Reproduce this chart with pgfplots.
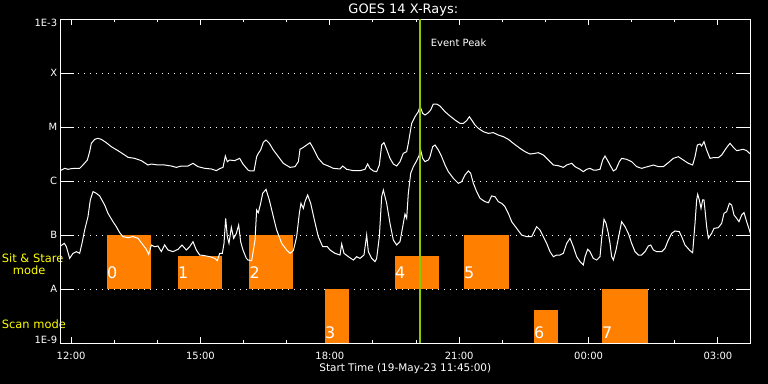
\documentclass[border=0pt]{standalone}
\usepackage{pgfplots}
\pgfplotsset{compat=1.18}
\usepackage{fontspec}
\setmainfont{DejaVu Sans}
\definecolor{barorange}{RGB}{255,127,0}
\definecolor{peakgreen}{RGB}{140,200,0}
\definecolor{labyellow}{RGB}{255,255,0}
\begin{document}
\begin{tikzpicture}
\fill[black] (-60.3bp,-40.7bp) rectangle (707.7bp,343.3bp);
\node[anchor=base west, inner sep=0pt, text=labyellow, font=\fontsize{11.5}{13}\selectfont] at (-58.6bp,80.6bp) {Sit \& Stare};
\node[anchor=base west, inner sep=0pt, text=labyellow, font=\fontsize{11.5}{13}\selectfont] at (-47.6bp,68.3bp) {mode};
\node[anchor=base west, inner sep=0pt, text=labyellow, font=\fontsize{11.5}{13}\selectfont] at (-58.6bp,15.3bp) {Scan mode};
\begin{axis}[
  at={(0,0)}, anchor=south west, name=ax,
  scale only axis, width=690bp, height=324bp,
  xmin=-0.25, xmax=15.75, ymin=-9, ymax=-3,
  axis line style={white, line width=1bp},
  every tick/.style={white, line width=1bp},
  tick align=inside,
  major tick length=14bp, minor tick length=3bp,
  xtick={0,3,6,9,12,15},
  xticklabels={12:00,15:00,18:00,21:00,00:00,03:00},
  minor x tick num=2,
  xtick style={/pgfplots/major tick length=6bp},
  ytick={-8,-7,-6,-5,-4},
  yticklabels={A,B,C,M,X},
  ymajorgrids,
  major grid style={white, line width=1bp, dash pattern=on 1bp off 5bp},
  ticklabel style={white, font=\fontsize{10}{12}\selectfont, inner sep=0pt},
  yticklabel style={xshift=-3bp},
  xticklabel style={yshift=-8.4bp},
  xlabel={Start Time (19-May-23 11:45:00)},
  xlabel style={white, font=\fontsize{10.5}{12}\selectfont, at={(0.5,0)}, anchor=base, yshift=-28bp, inner sep=0pt},
]
% observation bars: Sit & Stare (A..B row) and Scan (1E-9..A row)
\addplot[fill=barorange, draw=none] coordinates {(0.833,-8) (0.833,-7) (1.853,-7) (1.853,-8)} -- cycle;
\addplot[fill=barorange, draw=none] coordinates {(2.479,-8) (2.479,-7.383) (3.500,-7.383) (3.500,-8)} -- cycle;
\addplot[fill=barorange, draw=none] coordinates {(4.133,-8) (4.133,-7) (5.139,-7) (5.139,-8)} -- cycle;
\addplot[fill=barorange, draw=none] coordinates {(5.888,-9) (5.888,-8) (6.444,-8) (6.444,-9)} -- cycle;
\addplot[fill=barorange, draw=none] coordinates {(7.511,-8) (7.511,-7.383) (8.531,-7.383) (8.531,-8)} -- cycle;
\addplot[fill=barorange, draw=none] coordinates {(9.111,-8) (9.111,-7) (10.155,-7) (10.155,-8)} -- cycle;
\addplot[fill=barorange, draw=none] coordinates {(10.734,-9) (10.734,-8.383) (11.291,-8.383) (11.291,-9)} -- cycle;
\addplot[fill=barorange, draw=none] coordinates {(12.312,-9) (12.312,-8) (13.379,-8) (13.379,-9)} -- cycle;
% long channel (1-8 A), log10 flux
\addplot[white, line width=1bp] coordinates {
(-0.25,-5.803) (-0.149,-5.760) (-0.071,-5.778) (0.006,-5.766) (0.083,-5.760) (0.199,-5.760) (0.276,-5.698) (0.377,-5.606) (0.431,-5.451) (0.470,-5.297) (0.547,-5.223) (0.624,-5.204) (0.701,-5.223) (0.817,-5.285) (0.933,-5.359) (1.088,-5.433) (1.243,-5.513) (1.320,-5.556) (1.474,-5.575) (1.629,-5.618) (1.783,-5.698) (1.861,-5.680) (2.015,-5.698) (2.170,-5.698) (2.325,-5.717) (2.441,-5.742) (2.557,-5.717) (2.711,-5.717) (2.827,-5.667) (2.943,-5.729) (3.098,-5.760) (3.252,-5.772) (3.368,-5.803) (3.446,-5.766) (3.523,-5.742) (3.577,-5.532) (3.623,-5.637) (3.677,-5.606) (3.793,-5.618) (3.909,-5.575) (3.986,-5.680) (4.102,-5.791)
(4.149,-5.809) (4.242,-5.809) (4.303,-5.544) (4.342,-5.482) (4.396,-5.420) (4.458,-5.278) (4.520,-5.235) (4.597,-5.297) (4.690,-5.420) (4.806,-5.544) (4.922,-5.667) (5.076,-5.742) (5.192,-5.729) (5.270,-5.637) (5.308,-5.408) (5.386,-5.371) (5.463,-5.328) (5.540,-5.285) (5.617,-5.390) (5.733,-5.575) (5.849,-5.680) (5.965,-5.717) (6.081,-5.760) (6.236,-5.772) (6.298,-5.717) (6.390,-5.778) (6.545,-5.803) (6.700,-5.803) (6.816,-5.778) (6.877,-5.680) (6.931,-5.760) (7.009,-5.809) (7.086,-5.822) (7.148,-5.698) (7.202,-5.328) (7.256,-5.285) (7.318,-5.408) (7.395,-5.575) (7.472,-5.680) (7.550,-5.717) (7.627,-5.637) (7.704,-5.482) (7.782,-5.451) (7.820,-5.297) (7.859,-5.112) (7.898,-4.927) (7.975,-4.803) (8.052,-4.711) (8.091,-4.610)
(8.153,-4.741) (8.207,-4.772) (8.284,-4.729) (8.338,-4.680) (8.400,-4.569) (8.477,-4.569) (8.555,-4.606) (8.671,-4.711) (8.787,-4.791) (8.903,-4.865) (9.018,-4.927) (9.096,-4.927) (9.173,-4.877) (9.235,-4.803) (9.289,-4.865) (9.366,-4.957) (9.444,-5.019) (9.560,-5.081) (9.675,-5.112) (9.791,-5.099) (9.907,-5.143) (10.023,-5.174) (10.139,-5.223) (10.255,-5.297) (10.410,-5.390) (10.526,-5.451) (10.642,-5.495) (10.758,-5.482) (10.835,-5.470) (10.951,-5.513) (11.067,-5.606) (11.183,-5.698) (11.299,-5.711) (11.415,-5.742) (11.492,-5.698) (11.608,-5.667) (11.685,-5.729) (11.801,-5.778) (11.878,-5.822) (11.956,-5.778) (12.033,-5.760) (12.110,-5.791) (12.188,-5.791) (12.265,-5.778) (12.327,-5.606) (12.381,-5.532) (12.435,-5.606) (12.497,-5.698)
(12.574,-5.809) (12.636,-5.778) (12.713,-5.637) (12.767,-5.575) (12.883,-5.593) (12.999,-5.637) (13.115,-5.729) (13.231,-5.760) (13.308,-5.742) (13.424,-5.717) (13.502,-5.698) (13.617,-5.729) (13.733,-5.729) (13.849,-5.655) (13.965,-5.575) (14.081,-5.544) (14.197,-5.606) (14.313,-5.667) (14.413,-5.698) (14.468,-5.544) (14.522,-5.328) (14.584,-5.309) (14.622,-5.346) (14.676,-5.266) (14.738,-5.420) (14.816,-5.575) (14.893,-5.562) (15.009,-5.562) (15.086,-5.513) (15.163,-5.420) (15.217,-5.359) (15.279,-5.297) (15.357,-5.371) (15.434,-5.433) (15.511,-5.420) (15.588,-5.408) (15.666,-5.433) (15.750,-5.495)
};
% short channel (0.5-4 A), log10 flux
\addplot[white, line width=1bp] coordinates {
(-0.25,-7.200) (-0.156,-7.149) (-0.110,-7.211) (-0.033,-7.427) (0.044,-7.334) (0.122,-7.303) (0.199,-7.334) (0.253,-7.149) (0.315,-6.902) (0.392,-6.655) (0.446,-6.346) (0.508,-6.192) (0.586,-6.223) (0.663,-6.272) (0.779,-6.439) (0.856,-6.593) (0.972,-6.748) (1.049,-6.840) (1.127,-6.951) (1.204,-7.025) (1.320,-7.044) (1.436,-7.025) (1.552,-7.056) (1.668,-7.180) (1.745,-7.260) (1.799,-7.353) (1.861,-7.180) (1.938,-7.211) (2.015,-7.198) (2.093,-7.303) (2.170,-7.180) (2.247,-7.272) (2.363,-7.303) (2.479,-7.260) (2.572,-7.180) (2.672,-7.272) (2.750,-7.211) (2.827,-7.118) (2.904,-7.272) (2.982,-7.365) (3.098,-7.377) (3.213,-7.396) (3.330,-7.427) (3.391,-7.470) (3.446,-7.334) (3.507,-7.334) (3.546,-7.149) (3.585,-6.686) (3.623,-7.025) (3.662,-7.149) (3.716,-6.853) (3.770,-7.056) (3.832,-6.964) (3.886,-6.809) (3.932,-7.118) (3.986,-7.272) (4.064,-7.427) (4.102,-7.458)
(4.188,-7.470) (4.265,-7.087) (4.303,-6.532) (4.342,-6.581) (4.396,-6.408) (4.443,-6.223) (4.520,-6.149) (4.597,-6.346) (4.690,-6.655) (4.767,-6.902) (4.883,-7.149) (4.999,-7.272) (5.076,-7.334) (5.154,-7.285) (5.231,-7.025) (5.293,-6.593) (5.331,-6.408) (5.386,-6.501) (5.424,-6.377) (5.486,-6.254) (5.556,-6.408) (5.633,-6.686) (5.733,-7.025) (5.834,-7.211) (5.942,-7.211) (6.004,-7.272) (6.120,-7.334) (6.236,-7.365) (6.275,-7.161) (6.329,-7.334) (6.429,-7.396) (6.545,-7.458) (6.622,-7.396) (6.700,-7.427) (6.792,-7.365) (6.854,-6.995) (6.893,-7.303) (6.970,-7.427) (7.047,-7.488) (7.086,-7.427) (7.148,-7.025) (7.202,-6.285) (7.241,-6.161) (7.318,-6.408) (7.395,-6.778) (7.472,-7.087) (7.550,-7.180) (7.627,-7.118) (7.704,-6.778) (7.743,-6.606) (7.782,-6.686) (7.820,-6.223) (7.875,-5.853) (7.936,-5.729) (8.014,-5.618) (8.075,-5.513) (8.091,-5.371)
(8.153,-5.575) (8.207,-5.636) (8.284,-5.606) (8.323,-5.544) (8.385,-5.359) (8.439,-5.328) (8.516,-5.420) (8.593,-5.544) (8.671,-5.698) (8.748,-5.822) (8.864,-5.945) (8.980,-6.038) (9.057,-6.007) (9.134,-5.883) (9.212,-5.809) (9.266,-5.853) (9.328,-6.038) (9.405,-6.192) (9.482,-6.315) (9.598,-6.377) (9.676,-6.396) (9.753,-6.272) (9.830,-6.285) (9.907,-6.377) (9.985,-6.408) (10.062,-6.470) (10.139,-6.593) (10.217,-6.748) (10.332,-6.871) (10.448,-6.995) (10.564,-7.025) (10.680,-7.025) (10.758,-6.902) (10.796,-6.840) (10.874,-6.902) (10.951,-7.025) (11.028,-7.149) (11.105,-7.303) (11.183,-7.396) (11.260,-7.365) (11.337,-7.365) (11.415,-7.334) (11.492,-7.149) (11.569,-7.056) (11.646,-7.211) (11.724,-7.396) (11.801,-7.488) (11.878,-7.550) (11.917,-7.396) (11.979,-7.260) (12.033,-7.303) (12.110,-7.427) (12.188,-7.458) (12.265,-7.396) (12.304,-7.056) (12.358,-6.704) (12.404,-6.778) (12.458,-6.964) (12.497,-7.149)
(12.535,-7.396) (12.574,-7.458) (12.636,-7.272) (12.713,-6.964) (12.767,-6.748) (12.845,-6.840) (12.922,-6.964) (12.999,-7.149) (13.076,-7.303) (13.154,-7.365) (13.231,-7.365) (13.308,-7.303) (13.386,-7.198) (13.440,-7.180) (13.502,-7.272) (13.579,-7.303) (13.695,-7.303) (13.772,-7.241) (13.849,-7.087) (13.927,-6.964) (14.004,-6.920) (14.104,-6.933) (14.158,-7.025) (14.236,-7.180) (14.352,-7.285) (14.413,-7.322) (14.468,-6.778) (14.506,-6.346) (14.530,-6.241) (14.568,-6.346) (14.607,-6.501) (14.645,-6.346) (14.676,-6.346) (14.700,-6.532) (14.738,-6.840) (14.777,-7.056) (14.854,-6.964) (14.908,-6.871) (15.009,-6.859) (15.086,-6.778) (15.140,-6.593) (15.202,-6.562) (15.264,-6.408) (15.318,-6.439) (15.372,-6.624) (15.434,-6.686) (15.488,-6.748) (15.550,-6.624) (15.604,-6.581) (15.666,-6.748) (15.728,-6.902) (15.750,-6.964)
};
% event peak
\addplot[peakgreen, line width=2bp] coordinates {(8.091,-9) (8.091,-3)};
\node[anchor=base west, white, inner sep=0pt, font=\fontsize{10}{12}\selectfont] at (axis cs:8.339,-3.507) {Event Peak};
% bar numbers
\begin{scope}[every node/.style={anchor=west, white, inner sep=0pt, font=\fontsize{16}{18}\selectfont}]
\node at (axis cs:0.833,-7.686) {0};
\node at (axis cs:2.479,-7.686) {1};
\node at (axis cs:4.133,-7.686) {2};
\node at (axis cs:5.888,-8.81) {3};
\node at (axis cs:7.511,-7.686) {4};
\node at (axis cs:9.111,-7.686) {5};
\node at (axis cs:10.734,-8.81) {6};
\node at (axis cs:12.312,-8.81) {7};
\end{scope}
\end{axis}
% end labels of the y axis and title
\node[anchor=east, white, inner sep=0pt, font=\fontsize{10}{12}\selectfont] at (-3bp,320bp) {1E-3};
\node[anchor=east, white, inner sep=0pt, font=\fontsize{10}{12}\selectfont] at (-3bp,3bp) {1E-9};
\node[anchor=base, white, inner sep=0pt, font=\fontsize{13}{15}\selectfont] at (343bp,329.3bp) {GOES 14 X-Rays:};
\pgfresetboundingbox
\path (-60.3bp,-40.7bp) rectangle (707.7bp,343.3bp);
\end{tikzpicture}
\end{document}
